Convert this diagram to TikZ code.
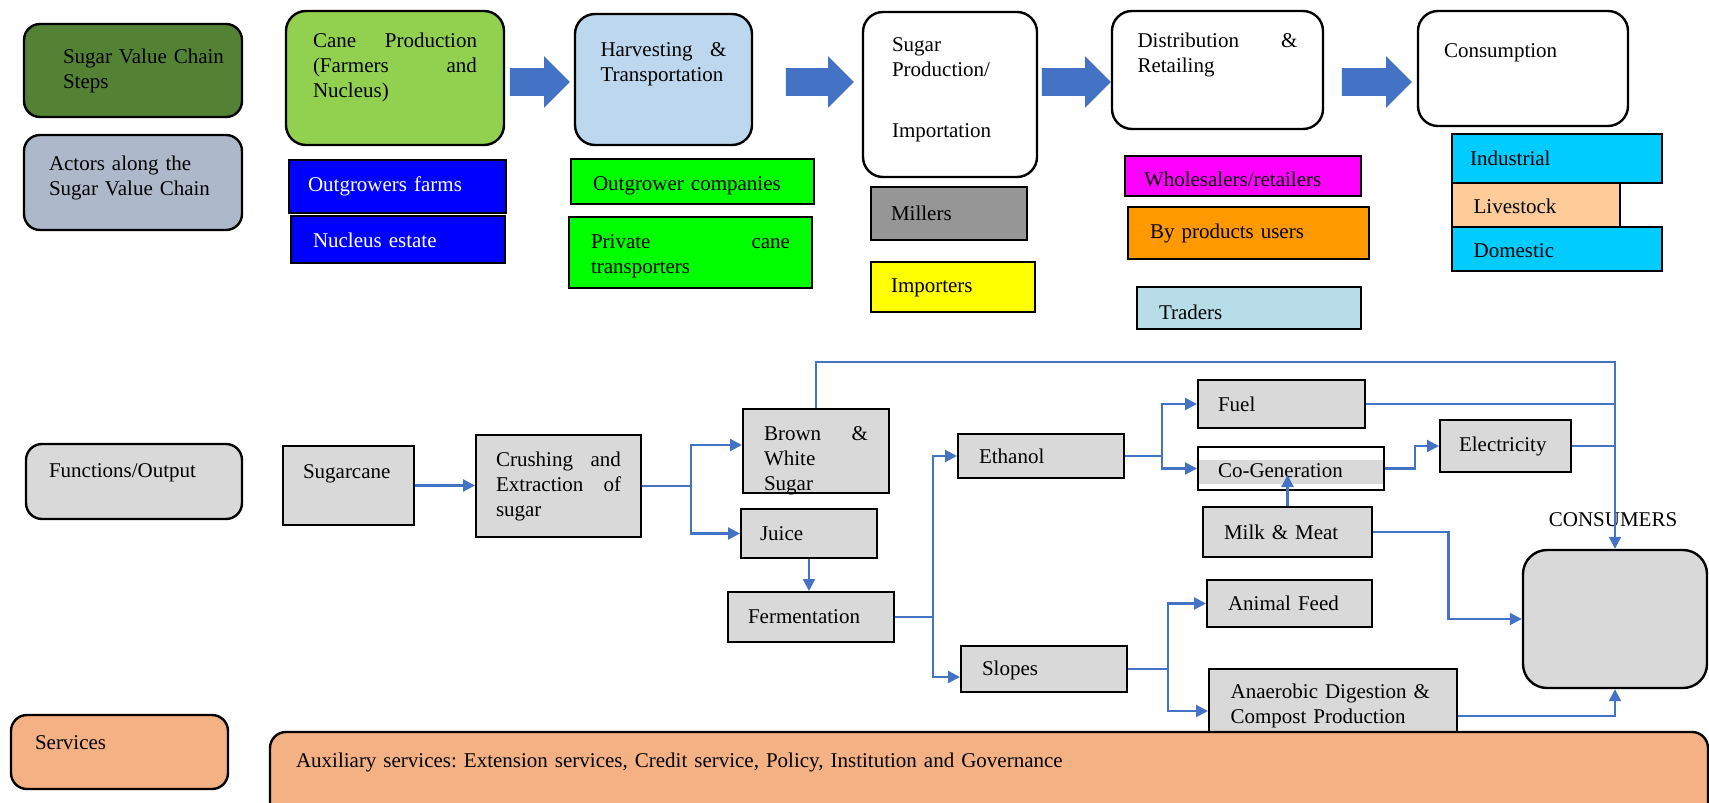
\documentclass[tikz,border=0pt]{standalone}
\usepackage{fontspec}
\setmainfont{Liberation Serif}
\usepackage{xcolor}
\usepackage{tikz}
\usetikzlibrary{arrows.meta,shapes.arrows}
\frenchspacing
\definecolor{linkblue}{HTML}{4472C4}
\definecolor{stepgreen}{HTML}{548235}
\definecolor{actorgray}{HTML}{ADB9CA}
\definecolor{canegreen}{HTML}{92D050}
\definecolor{harvblue}{HTML}{BDD7EE}
\definecolor{farmblue}{HTML}{0000FF}
\definecolor{compgreen}{HTML}{00FF00}
\definecolor{millgray}{HTML}{969696}
\definecolor{impyellow}{HTML}{FFFF00}
\definecolor{wholemag}{HTML}{FF00FF}
\definecolor{byorange}{HTML}{FF9900}
\definecolor{tradeblue}{HTML}{B7DEE8}
\definecolor{consblue}{HTML}{00CCFF}
\definecolor{livepeach}{HTML}{FFCC99}
\definecolor{boxgray}{HTML}{D9D9D9}
\definecolor{servorange}{HTML}{F4B183}
\tikzset{
  sidebox/.style={draw, line width=1.2pt, rounded corners=8pt, align=left},
  stepbox/.style={draw, line width=1.2pt, rounded corners=10pt, align=left, inner ysep=0pt},
  actbox/.style={draw, line width=0.9pt, align=left, inner ysep=0pt},
  fnbox/.style={draw, line width=1pt, fill=boxgray, align=left, inner ysep=0pt},
  conn/.style={draw=linkblue, line width=1.1pt, -{Triangle[length=6pt,width=6pt]}},
  blockarr/.style={single arrow, draw=none, fill=linkblue, inner sep=6.75pt, single arrow head extend=6pt, minimum height=#1},
}
\begin{document}
\begin{tikzpicture}[x=1pt, y=-1pt, font=\fontsize{10.5}{12.5}\selectfont]
\useasboundingbox (0,0) rectangle (854.5,401.5);
\clip (0,0) rectangle (854.5,401.5);
\node[sidebox, fill=stepgreen, text width=92pt, inner xsep=8.5pt, minimum height=46.5pt] (steps) at (66.5,35.25) {\hspace*{11pt}Sugar Value Chain\\\hspace*{11pt}Steps};
\node[sidebox, fill=actorgray, text width=84pt, inner xsep=12.5pt, minimum height=47.5pt, text depth=19pt] (actors) at (66.5,91.25) {Actors along the\\Sugar Value Chain};
\node[stepbox, fill=canegreen, text width=82pt, inner xsep=13.5pt, text height=18.4pt, text depth=48.6pt] (cane) at (197.5,39) {Cane\hfill Production\\(Farmers\hfill and\\Nucleus)};
\node[stepbox, fill=harvblue, text width=63pt, inner xsep=12.75pt, text height=21.4pt, text depth=44.1pt] (harvest) at (331.75,39.75) {Harvesting\hfill\&\\Transportation};
\node[stepbox, fill=white, text width=58pt, inner xsep=14.5pt, text height=19.8pt, text depth=62.7pt] (sugarprod) at (475,47.25) {Sugar\\Production/\\[18pt]Importation};
\node[stepbox, fill=white, text width=80pt, inner xsep=12.75pt, text height=18.2pt, text depth=40.8pt] (distrib) at (608.75,35) {Distribution\hfill\&\\Retailing};
\node[stepbox, fill=white, text width=79pt, inner xsep=13pt, text height=23.4pt, text depth=34.1pt] (consump) at (761.5,34.25) {Consumption};
\node[blockarr=30pt] (arr1) at (266.5,41) {};
\node[blockarr=34pt] (arr2) at (406.5,41) {};
\node[blockarr=34.5pt] (arr3) at (534.75,41) {};
\node[blockarr=35pt] (arr4) at (685,41) {};
\node[actbox, fill=farmblue, text=white, text width=89.5pt, inner xsep=9.5pt, minimum height=26.5pt] (outfarms) at (198.75,93.25) {Outgrowers farms};
\node[actbox, fill=farmblue, text=white, text width=85pt, inner xsep=11pt, minimum height=23.5pt, text height=8.1pt] (nucleus) at (199,119.75) {Nucleus estate};
\node[actbox, fill=compgreen, text width=99.5pt, inner xsep=11pt, minimum height=22.5pt, text height=11.5pt] (outcomp) at (346.25,90.75) {Outgrower companies};
\node[actbox, fill=compgreen, text width=99.5pt, inner xsep=11pt, minimum height=35.5pt, text height=10.7pt] (privtrans) at (345.25,126.25) {Private\hfill cane\\transporters};
\node[actbox, fill=millgray, text width=58pt, inner xsep=10pt, minimum height=26.5pt] (millers) at (474.5,106.75) {Millers};
\node[actbox, fill=impyellow, text width=62pt, inner xsep=10pt, minimum height=25pt, text height=8.1pt] (importers) at (476.5,143.5) {Importers};
\node[actbox, fill=wholemag, text width=99pt, inner xsep=9.5pt, minimum height=20pt, text height=10.3pt] (wholesale) at (621.5,88) {Wholesalers/retailers};
\node[actbox, fill=byorange, text width=98.5pt, inner xsep=11pt, minimum height=26pt] (byprod) at (624.25,116.5) {By products users};
\node[actbox, fill=tradeblue, text width=90pt, inner xsep=11pt, minimum height=21pt, text height=11.1pt] (traders) at (624.5,154) {Traders};
\node[actbox, fill=consblue, text width=87pt, inner xsep=9pt, minimum height=24.5pt] (industrial) at (778.5,79.25) {Industrial};
\node[actbox, fill=livepeach, text width=62.4pt, inner xsep=10.8pt, minimum height=22pt, text height=9.1pt] (livestock) at (768,102.5) {Livestock};
\node[actbox, fill=consblue, text width=83.4pt, inner xsep=10.8pt, minimum height=22pt, text height=9.1pt] (domestic) at (778.5,124.5) {Domestic};
\node[sidebox, fill=boxgray, text width=85pt, inner xsep=11.5pt, inner ysep=0pt, text height=16.8pt, text depth=20.7pt] (funcs) at (67,240.75) {Functions/Output};
\node[fnbox, text width=45.5pt, inner xsep=10pt, text height=16.3pt, text depth=23.2pt] (sugarcane) at (174.25,242.75) {Sugarcane};
\node[fnbox, text width=62.5pt, inner xsep=10pt, minimum height=51pt] (crush) at (279.25,243) {Crushing\hfill and\\Extraction\hfill of\\sugar};
\node[fnbox, text width=52pt, inner xsep=10.5pt, text height=15.7pt, text depth=26.3pt] (brown) at (408,225.5) {Brown\hfill\&\\White\\Sugar};
\node[fnbox, text width=49pt, inner xsep=9.5pt, minimum height=24.5pt] (juice) at (404.5,266.75) {Juice};
\node[fnbox, text width=63pt, inner xsep=10pt, minimum height=25pt] (ferment) at (405.5,308.5) {Fermentation};
\node[fnbox, text width=62pt, inner xsep=10.5pt, minimum height=22pt] (ethanol) at (520.5,228) {Ethanol};
\node[fnbox, text width=62pt, inner xsep=10.5pt, minimum height=23pt, text height=9.1pt] (slopes) at (522,334.5) {Slopes};
\node[fnbox, text width=63.5pt, inner xsep=10pt, minimum height=24pt] (fuel) at (640.75,202) {Fuel};
\node[fnbox, fill=white, text width=73pt, inner xsep=10pt, minimum height=21.5pt, text height=9.1pt,
  path picture={\fill[boxgray] ([yshift=3pt]path picture bounding box.south west) rectangle ([yshift=-6.5pt]path picture bounding box.north east);}] (cogen) at (645.5,234.25) {Co-Generation};
\node[fnbox, text width=46.5pt, inner xsep=9.5pt, minimum height=26pt] (elec) at (752.75,223) {Electricity};
\node[fnbox, text width=63.5pt, inner xsep=10.5pt, minimum height=25pt] (milk) at (643.75,266) {Milk \& Meat};
\node[fnbox, text width=61.5pt, inner xsep=10.5pt, minimum height=23.5pt] (feed) at (644.75,301.75) {Animal Feed};
\node[fnbox, text width=102.4pt, inner xsep=10.8pt, minimum height=34pt, text height=10.5pt] (anaer) at (666.5,351.5) {Anaerobic Digestion \&\\Compost Production};
\node[draw, line width=1.2pt, rounded corners=12pt, fill=boxgray, minimum width=92pt, minimum height=69pt] (consumers) at (807.5,309.5) {};
\node (conlabel) at (806.5,260) {CONSUMERS};
\node[sidebox, fill=servorange, text width=84.5pt, inner xsep=12pt, inner ysep=0pt, text height=17.4pt, text depth=19.6pt] (services) at (59.75,376) {Services};
\node[sidebox, fill=servorange, text width=693pt, inner xsep=13pt, inner ysep=0pt, text height=17.9pt, text depth=26.1pt] (aux) at (494.5,388) {Auxiliary services: Extension services, Credit service, Policy, Institution and Governance};
\draw[conn] (sugarcane.east) -- (sugarcane.east -| crush.west);
\draw[conn] (crush.east) -- ++(24.5,0) |- ([yshift=3pt]brown.west);
\draw[conn] (crush.east) -- ++(24.5,0) |- (juice.west);
\draw[conn] (juice.south) -- (juice.south |- ferment.north);
\draw[conn] (brown.north) -- ++(0,-23) -| (consumers.north);
\draw[conn] (ferment.east) -- ++(19,0) |- (ethanol.west);
\draw[conn] (ferment.east) -- ++(19,0) |- ([yshift=-4pt]slopes.west);
\draw[conn] (ethanol.east) -- ++(18.4,0) |- (fuel.west);
\draw[conn] (ethanol.east) -- ++(18.4,0) |- (cogen.west);
\draw[conn, -] (fuel.east) -- (fuel.east -| consumers.north);
\draw[conn] (cogen.east) -- ++(14.8,0) |- (elec.west);
\draw[conn, -] (elec.east) -- (elec.east -| consumers.north);
\draw[conn] (milk.north) -- ++(0,-15.5);
\draw[conn] (milk.east) -- ++(37.7,0) |- (consumers.west);
\draw[conn] (slopes.east) -- ++(20,0) |- (feed.west);
\draw[conn] (slopes.east) -- ++(20,0) |- ([yshift=-4pt]anaer.west);
\draw[conn] ([yshift=-6.5pt]anaer.east) -| (consumers.south);
\end{tikzpicture}
\end{document}
